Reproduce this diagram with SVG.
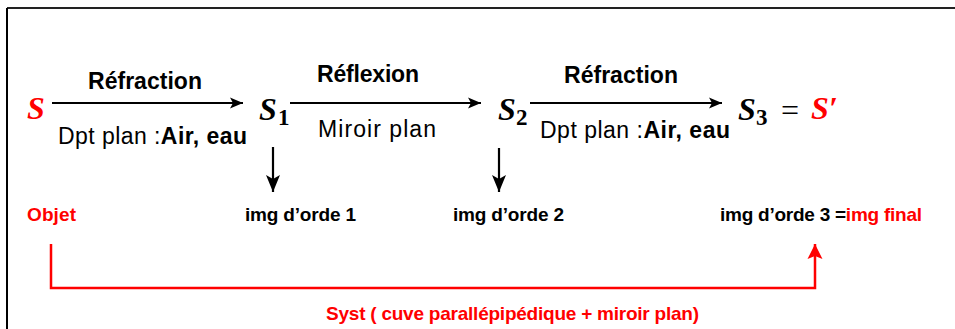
<svg xmlns="http://www.w3.org/2000/svg" width="955" height="329" viewBox="0 0 955 329">
<style>
.lbl{font-family:"Liberation Sans",Arial,sans-serif;font-size:23px;fill:#000}
.b{font-weight:bold}
.sm{font-family:"Liberation Sans",Arial,sans-serif;font-size:19px;font-weight:bold;fill:#000}
.m{font-family:"Liberation Serif","Times New Roman",serif;font-size:32px;font-weight:bold;font-style:italic;fill:#000}
.sub{font-family:"Liberation Serif","Times New Roman",serif;font-size:23px;font-weight:bold;fill:#000}
.eq{font-family:"Liberation Serif","Times New Roman",serif;font-size:32px;fill:#000}
.red{fill:#ff0000}
.arr{stroke:#000;stroke-width:1.8;fill:none}
.varr{stroke:#000;stroke-width:2.2;fill:none}
.rarr{stroke:#ff0000;stroke-width:2.5;fill:none}
</style>
<defs>
<marker id="ah" markerUnits="userSpaceOnUse" markerWidth="14" markerHeight="12" refX="13" refY="6" orient="auto">
<path d="M0,0.5 L13,6 L0,11.5 L3,6 z" fill="#000"/>
</marker>
<marker id="vh" markerUnits="userSpaceOnUse" markerWidth="18" markerHeight="16" refX="17" refY="8" orient="auto">
<path d="M0,1 L17,8 L0,15 L4,8 z" fill="#000"/>
</marker>
<marker id="rh" markerUnits="userSpaceOnUse" markerWidth="16" markerHeight="16" refX="15" refY="8" orient="auto">
<path d="M0,0.5 L15,8 L0,15.5 L3,8 z" fill="#ff0000"/>
</marker>
</defs>
<rect width="955" height="329" fill="#fff"/>
<g id="frame">
<line x1="7" y1="8" x2="955" y2="8" stroke="#222" stroke-width="2"/>
<line x1="7" y1="8" x2="7" y2="329" stroke="#000" stroke-width="2"/>
</g>
<g id="connectors">
<line class="arr" x1="52" y1="103" x2="243" y2="103" marker-end="url(#ah)"/>
<line class="arr" x1="290" y1="103" x2="481" y2="103" marker-end="url(#ah)"/>
<line class="arr" x1="530" y1="103" x2="722" y2="103" marker-end="url(#ah)"/>
<line class="varr" x1="273" y1="147" x2="273" y2="192" marker-end="url(#vh)"/>
<line class="varr" x1="499" y1="148" x2="499" y2="192" marker-end="url(#vh)"/>
<polyline class="rarr" points="51,244 51,288 815,288 815,244" marker-end="url(#rh)"/>
<text class="lbl b" x="88" y="89" textLength="114">Réfraction</text>
<text class="lbl" x="58" y="144" textLength="189">Dpt plan :<tspan class="b">Air, eau</tspan></text>
<text class="lbl b" x="317" y="82" textLength="102">Réflexion</text>
<text class="lbl" x="318" y="137" textLength="118">Miroir plan</text>
<text class="lbl b" x="564" y="83" textLength="114">Réfraction</text>
<text class="lbl" x="540" y="138" textLength="190">Dpt plan :<tspan class="b">Air, eau</tspan></text>
<text class="sm red" x="326" y="320" textLength="373">Syst ( cuve parallépipédique + miroir plan)</text>
</g>
<g id="S">
<text class="m red" x="27" y="119">S</text>
<text class="sm red" x="27" y="221" textLength="49">Objet</text>
</g>
<g id="S1">
<text class="m" x="259" y="120">S</text>
<text class="sub" x="278" y="125">1</text>
<text class="sm" x="245" y="221" textLength="111">img d’orde 1</text>
</g>
<g id="S2">
<text class="m" x="498" y="120">S</text>
<text class="sub" x="516" y="125">2</text>
<text class="sm" x="453" y="221" textLength="111">img d’orde 2</text>
</g>
<g id="S3">
<text class="m" x="738" y="120">S</text>
<text class="sub" x="756" y="125">3</text>
<text class="eq" x="781" y="121">=</text>
<text class="m red" x="811" y="119">S′</text>
<text class="sm" x="720" y="221" textLength="202">img d’orde 3 =<tspan class="red">img final</tspan></text>
</g>
</svg>
